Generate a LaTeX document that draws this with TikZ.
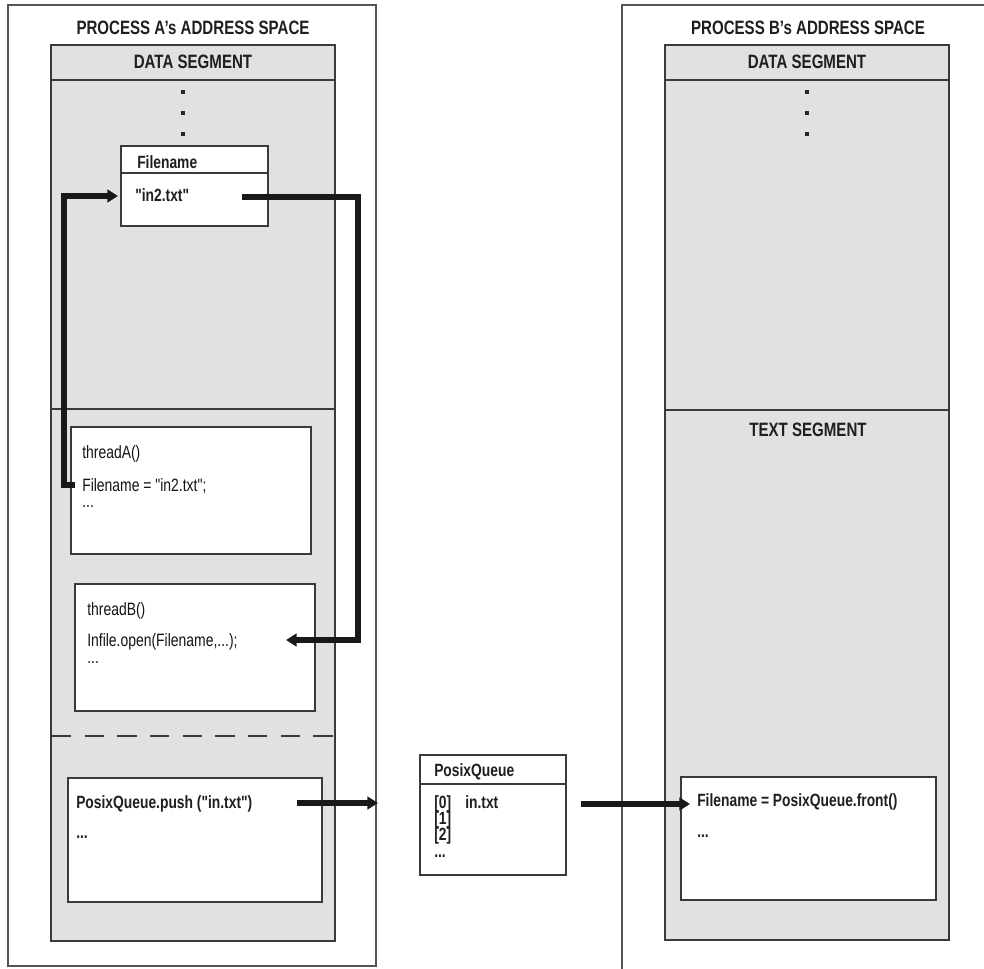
\documentclass[tikz,border=0pt]{standalone}
\usepackage{fontspec}
\newfontfamily\cfont{Liberation Sans}[FakeStretch=0.78]
\usetikzlibrary{arrows.meta}
\definecolor{segfill}{HTML}{E0E1E3}
\definecolor{frame}{HTML}{3A3A3A}
\definecolor{outerc}{HTML}{555555}
\newcommand{\dq}{\char34\relax}
\begin{document}
\begin{tikzpicture}[x=0.75pt,y=-0.75pt,
  boxsz/.style 2 args={minimum width=#1*0.75pt, minimum height=#2*0.75pt, inner sep=0pt, outer sep=0pt, anchor=north west},
  outerbox/.style={draw=outerc, line width=0.9pt},
  segbox/.style={draw=frame, fill=segfill, line width=0.9pt},
  whitebox/.style={draw=frame, fill=white, line width=0.9pt},
  segline/.style={draw=frame, line width=0.9pt},
  hd/.style={font=\cfont\bfseries\fontsize{14.5}{16}\selectfont, inner sep=0pt, anchor=base, text=black!88},
  bt/.style={font=\cfont\bfseries\fontsize{13.3}{15}\selectfont, inner sep=0pt, anchor=base west, text=black!88},
  rt/.style={font=\cfont\fontsize{13.4}{15}\selectfont, inner sep=0pt, anchor=base west, text=black!92},
  flow/.style={draw=black!90, line width=4pt, -{Triangle[length=8pt,width=9.5pt]}},
  dotmark/.style={fill=black!85, rectangle, minimum size=2.3pt, inner sep=0pt}
]
\useasboundingbox (0,0) rectangle (984,968);
\fill[white] (0,0) rectangle (984,968);
\clip (0,0) rectangle (984,968);

% ---------------- Process A ----------------
\node (procA) [outerbox, boxsz={368}{961}] at (8,5) {};
\node (titleA) [hd] at (193,34.5) {PROCESS A’s ADDRESS SPACE};
\node (grayA) [segbox, boxsz={284}{896}] at (51,45) {};
\draw[segline] (51,80) -- (335,80);
\draw[segline] (51,409) -- (335,409);
\node (dataA) [hd] at (193,68) {DATA SEGMENT};
\node (dA1) [dotmark] at (183,92) {};
\node (dA2) [dotmark] at (183,113) {};
\node (dA3) [dotmark] at (183,134) {};

% Filename variable
\node (fbox) [whitebox, boxsz={147}{80}] at (121,146) {};
\draw[segline] (121,173) -- (268,173);
\node (fname) [bt] at (137,168) {Filename};
\node (fval) [bt] at (135,201) {\dq in2.txt\dq};

% threadA
\node (tA) [whitebox, boxsz={240}{127}] at (71,427) {};
\node (tA1) [rt] at (82,458) {threadA()};
\node (tA2) [rt] at (82,491) {Filename = \dq in2.txt\dq;};
\node (tA3) [rt] at (82,507) {...};

% threadB
\node (tB) [whitebox, boxsz={240}{127}] at (75,584) {};
\node (tB1) [rt] at (87,615) {threadB()};
\node (tB2) [rt] at (87,646) {Infile.open(Filename,...);};
\node (tB3) [rt] at (87,663) {...};

\draw[draw=frame, line width=0.8pt, dash pattern=on 14.5pt off 10pt] (52,736) -- (335,736);

% push box
\node (push) [whitebox, boxsz={254}{124}] at (68,778) {};
\node (push1) [bt] at (76,808) {PosixQueue.push (\dq in.txt\dq)};
\node (push2) [bt] at (76,838) {...};

% ---------------- PosixQueue ----------------
\node (pq) [whitebox, boxsz={146}{120}] at (420,755) {};
\draw[segline] (420,784) -- (566,784);
\node (pqT) [bt] at (434,776) {PosixQueue};
\node (pq0) [bt] at (434,808) {[0]};
\node (pq0v) [bt] at (465,808) {in.txt};
\node (pq1) [bt] at (434,824) {[1]};
\node (pq2) [bt] at (434,840) {[2]};
\node (pq3) [bt] at (434,857) {...};

% ---------------- Process B ----------------
\node (procB) [outerbox, boxsz={400}{1000}] at (622,5) {};
\node (titleB) [hd] at (808,34.5) {PROCESS B’s ADDRESS SPACE};
\node (grayB) [segbox, boxsz={284}{895}] at (665,45) {};
\draw[segline] (665,80) -- (949,80);
\draw[segline] (665,410) -- (949,410);
\node (dataB) [hd] at (807,68) {DATA SEGMENT};
\node (textB) [hd] at (808,436) {TEXT SEGMENT};
\node (dB1) [dotmark] at (807,92) {};
\node (dB2) [dotmark] at (807,113) {};
\node (dB3) [dotmark] at (807,134) {};

\node (front) [whitebox, boxsz={255}{123}] at (681,777) {};
\node (front1) [bt] at (697,806) {Filename = PosixQueue.front()};
\node (front2) [bt] at (697,837) {...};

% ---------------- connectors ----------------
\coordinate (fnA) at (75,485);
\coordinate (fnIn) at (118,196);
\coordinate (fnOut) at (242,197);
\coordinate (openIn) at (286,640);
\coordinate (pushOut) at (297,803);
\coordinate (pqIn) at (378,803);
\coordinate (pqOut) at (581,804);
\coordinate (frontIn) at (690,804);

\draw[flow] (fnA) -- ++(-11,0) |- (fnIn);
\draw[flow] (fnOut) -- ++(116,0) |- (openIn);
\draw[flow] (pushOut) -- (pqIn);
\draw[flow] (pqOut) -- (frontIn);
\end{tikzpicture}
\end{document}
